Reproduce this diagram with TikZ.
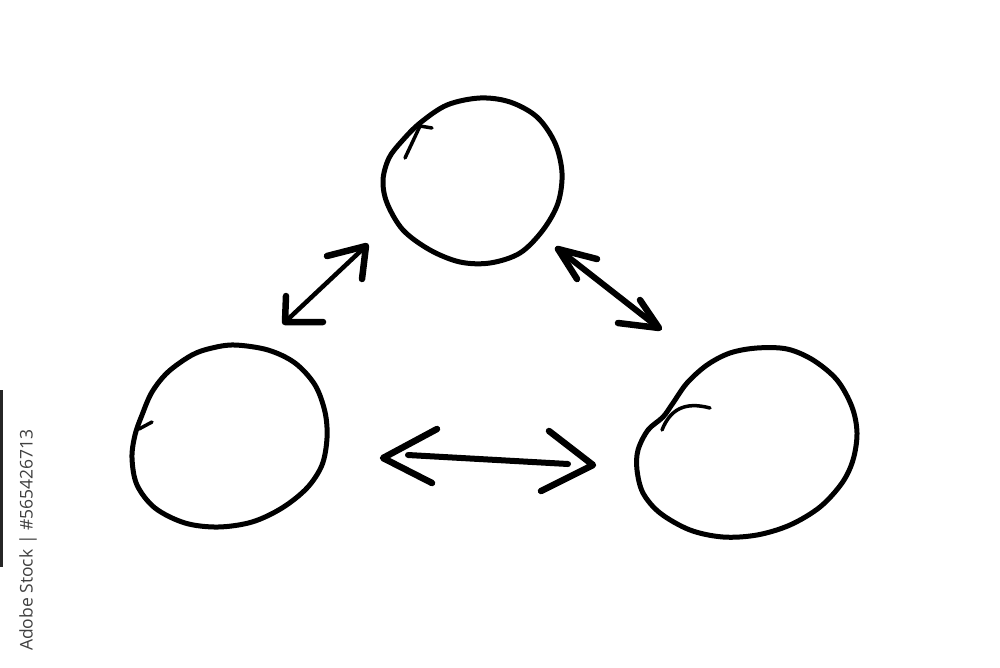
\documentclass[tikz,border=0pt]{standalone}
\usepackage{fontspec}
\newfontfamily\wmfont{Open Sans}
\usetikzlibrary{shapes.geometric}
\begin{document}
\begin{tikzpicture}[x=1pt,y=-1pt,
  slot/.style={ellipse, inner sep=0pt},
  ring/.style={draw=black, line width=5pt, line join=round},
  pen/.style={draw=black, line width=6pt, line cap=round, line join=round},
  barb/.style={draw=black, line width=6.5pt, line cap=round, line join=round},
  tick/.style={draw=black, line width=3.5pt, line cap=round}]
\useasboundingbox (0,0) rectangle (1000,667);
\fill[white] (0,0) rectangle (1000,667);

% circle nodes (positions and names)
\node[slot, minimum width=176pt, minimum height=161pt] (top) at (472.5,181) {};
\node[slot, minimum width=192pt, minimum height=180pt] (left) at (229,436) {};
\node[slot, minimum width=218pt, minimum height=190pt] (right) at (747,442) {};

% hand-drawn outlines
\draw[ring] plot[smooth cycle, tension=0.55] coordinates {
  (447,105) (480,98) (510,102) (537,117) (555,143) (562,173) (558,203)
  (543,230) (520,253) (490,263) (460,262) (430,250) (403,230) (387,203)
  (383,180) (389,158) (402,141) (420,123)};
\draw[ring] plot[smooth cycle, tension=0.55] coordinates {
  (235,345) (268,350) (295,363) (315,385) (325,412) (327,438) (322,465)
  (307,488) (282,508) (252,522) (218,527) (185,523) (155,508) (137,485)
  (132,458) (135,435) (142,415) (152,392) (168,372) (192,355) (212,348)};
\draw[ring] plot[smooth cycle, tension=0.55] coordinates {
  (757,348) (787,349) (813,360) (837,380) (852,407) (857,433) (853,460)
  (842,483) (820,507) (790,525) (757,535) (723,537) (690,530) (660,513)
  (643,493) (637,470) (638,450) (648,430) (663,417) (673,403) (687,383)
  (707,365) (730,353)};

% pen start marks
\draw[tick] (420,126) -- (432,128);
\draw[tick] (420,126) -- (405,158);
\draw[tick] (139,429) -- (152,422);
\draw[tick] (662,430) .. controls (670,410) and (684,401) .. (710,408);

% arrow end points
\coordinate (tlA) at (366,246);
\coordinate (tlB) at (285,322);
\coordinate (trA) at (558,249);
\coordinate (trB) at (659,328);
\coordinate (hA) at (383,458);
\coordinate (hB) at (593,465);

% top-left arrow
\draw[pen, line width=4.5pt] (tlB) -- (tlA);
\draw[barb] (327,256) -- (tlA) -- (362,279);
\draw[barb] (286,296) -- (tlB) -- (323,322);

% top-right arrow
\draw[pen] (trA) -- (trB);
\draw[barb] (597,259) -- (trA) -- (577,279);
\draw[barb] (618,323) -- (trB) -- (640,300);

% horizontal arrow
\draw[pen] (408,455) -- (568,464);
\draw[barb] (437,429) -- (hA) -- (432,483);
\draw[barb] (549,431) -- (hB) -- (541,491);

% left-edge watermark
\fill[black!85] (0,390) rectangle (2.5,567);
\node[rotate=90, anchor=west, inner sep=0pt, text=black!75, font=\wmfont\fontsize{17.5}{17.5}\selectfont] (wm) at (28,651) {Adobe Stock | \#565426713};
\end{tikzpicture}
\end{document}
